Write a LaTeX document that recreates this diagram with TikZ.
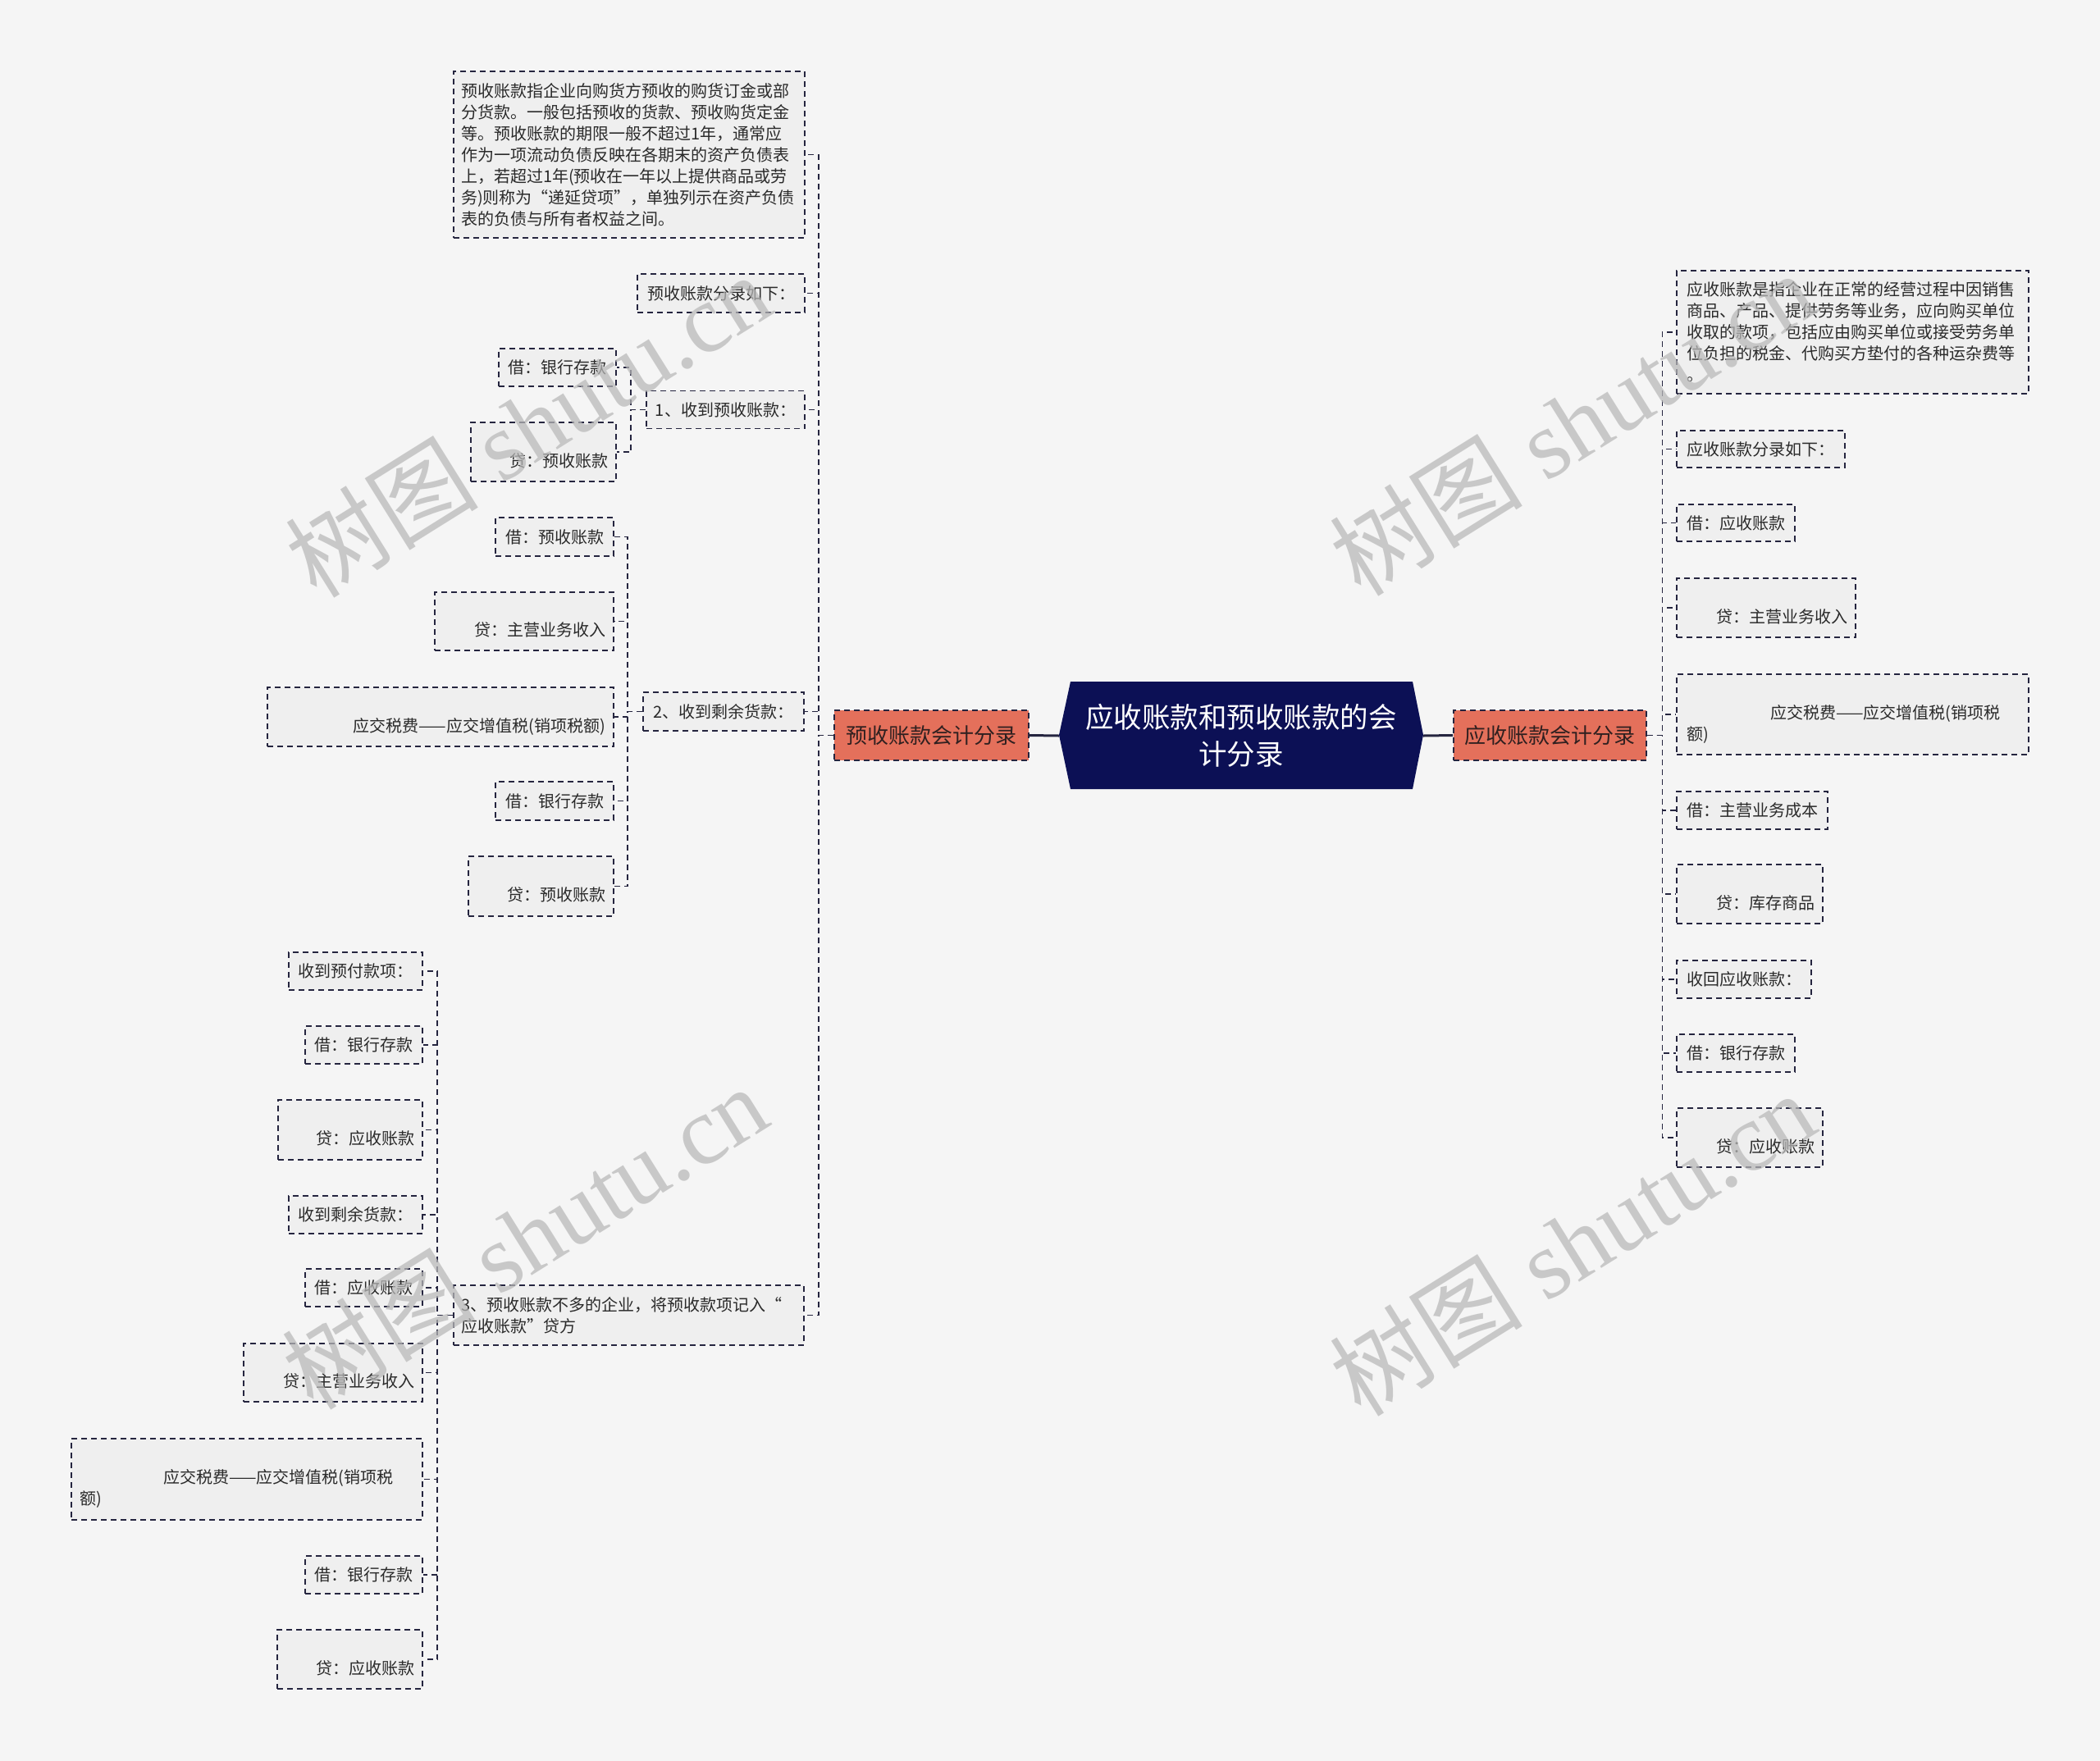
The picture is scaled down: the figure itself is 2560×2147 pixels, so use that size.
\documentclass[tikz,border=0pt]{standalone}
\usepackage{fontspec}
\newfontfamily\cjk{Noto Sans CJK SC}
\newfontfamily\wmserif{Liberation Serif}
\definecolor{bgc}{HTML}{F5F5F5}
\definecolor{boxc}{HTML}{EFEFEF}
\definecolor{linec}{HTML}{25253F}
\definecolor{redc}{HTML}{E4705B}
\definecolor{rootc}{HTML}{0C1055}
\definecolor{txtc}{HTML}{2A2A2A}
\definecolor{wmc}{HTML}{B8B8B8}
\definecolor{redtxt}{HTML}{302020}
\tikzset{
  bx/.style={draw=linec, line width=1.6pt, dash pattern=on 7pt off 5pt, fill=boxc,
    inner xsep=10pt, inner ysep=0pt, font=\cjk\fontsize{20pt}{26pt}\selectfont, text=txtc},
  bxr/.style={bx, align=right},
  bxl/.style={bx, align=left},
  redbox/.style={bx, fill=redc, font=\cjk\fontsize{26pt}{30pt}\selectfont, text=redtxt},
  conn/.style={draw=linec, line width=1.6pt, dash pattern=on 7pt off 5pt},
  rootline/.style={draw=linec, line width=3pt},
  wm/.style={font=\wmserif\fontsize{118pt}{124pt}\selectfont, text=wmc, opacity=0.72, rotate=32}
}
\begin{document}
\begin{tikzpicture}[x=1pt,y=-1pt]
\useasboundingbox (0,0) rectangle (2560,2147);
\fill[bgc] (0,0) rectangle (2560,2147);

% root
\fill[rootc] (1291,896) -- (1305,831) -- (1722,831) -- (1735,896) -- (1722,962) -- (1305,962) -- cycle;
\node[minimum width=444pt, minimum height=131pt, inner sep=0pt, align=center, text=white,
  font=\cjk\fontsize{34.5pt}{45pt}\selectfont] (root) at (1513,897) {应收账款和预收账款的会\\计分录};

% main branches
\node[redbox, minimum width=237pt, minimum height=61pt] (red1) at (1135.5,896.5) {预收账款会计分录};
\node[redbox, minimum width=235pt, minimum height=61pt] (red2) at (1889.5,896.5) {应收账款会计分录};
\draw[rootline] (red1.east) -- (root.west);
\draw[rootline] (root.east) -- (red2.west);

% left level 1
\node[bxl, inner xsep=9pt, text width=410pt, minimum width=428pt, minimum height=203pt] (A1) at (767,188.5)
 {预收账款指企业向购货方预收的购货订金或部\\分货款。一般包括预收的货款、预收购货定金\\等。预收账款的期限一般不超过1年，通常应\\作为一项流动负债反映在各期末的资产负债表\\上，若超过1年(预收在一年以上提供商品或劳\\务)则称为“递延贷项”，单独列示在资产负债\\表的负债与所有者权益之间。};
\node[bx, minimum width=204pt, minimum height=47pt] (A2) at (879,357.5) {预收账款分录如下：};
\node[bx, minimum width=193pt, minimum height=46pt] (A3) at (884.5,499.5) {1、收到预收账款：};
\node[bx, minimum width=196pt, minimum height=47pt] (A4) at (882,867.5) {2、收到剩余货款：};
\node[bxl, inner xsep=9pt, text width=409pt, minimum width=427pt, minimum height=73pt] (A5) at (766.5,1603.5)
 {3、预收账款不多的企业，将预收款项记入“\\应收账款”贷方};

% children of 1
\node[bx, minimum width=143pt, minimum height=46pt] (B1) at (679.5,448) {借：银行存款};
\node[bxr, text width=157pt, minimum width=177pt, minimum height=72pt] (B2) at (662.5,551) {\strut\\\strut 贷：预收账款};

% children of 2
\node[bx, minimum width=144pt, minimum height=47pt] (C1) at (676,654.5) {借：预收账款};
\node[bxr, text width=198pt, minimum width=218pt, minimum height=71pt] (C2) at (639,757.5) {\strut\\\strut 贷：主营业务收入};
\node[bxr, text width=402pt, minimum width=422pt, minimum height=72pt] (C3) at (537,874) {\strut\\\strut 应交税费——应交增值税(销项税额)};
\node[bx, minimum width=144pt, minimum height=47pt] (C4) at (676,976.5) {借：银行存款};
\node[bxr, text width=157pt, minimum width=177pt, minimum height=73pt] (C5) at (659.5,1080.5) {\strut\\\strut 贷：预收账款};

% children of 3
\node[bx, minimum width=163pt, minimum height=46pt] (D1) at (433.5,1184) {收到预付款项：};
\node[bx, minimum width=143pt, minimum height=46pt] (D2) at (443.5,1274) {借：银行存款};
\node[bxr, text width=156pt, minimum width=176pt, minimum height=73pt] (D3) at (427,1377.5) {\strut\\\strut 贷：应收账款};
\node[bx, minimum width=163pt, minimum height=46pt] (D4) at (433.5,1481) {收到剩余货款：};
\node[bx, minimum width=143pt, minimum height=46pt] (D5) at (443.5,1570) {借：应收账款};
\node[bxr, text width=198pt, minimum width=218pt, minimum height=71pt] (D6) at (406,1673.5) {\strut\\\strut 贷：主营业务收入};
\node[bxl, text width=408pt, minimum width=428pt, minimum height=99pt] (D7) at (301,1803.5)
 {\strut\\\strut\hspace*{102pt}应交税费——应交增值税(销项税\\\strut 额)};
\node[bx, minimum width=143pt, minimum height=46pt] (D8) at (443.5,1920) {借：银行存款};
\node[bxr, text width=157pt, minimum width=177pt, minimum height=72pt] (D9) at (426.5,2023) {\strut\\\strut 贷：应收账款};

% right side
\node[bxl, inner xsep=12pt, text width=405pt, minimum width=429pt, minimum height=150pt] (E1) at (2258.5,405)
 {应收账款是指企业在正常的经营过程中因销售\\商品、产品、提供劳务等业务，应向购买单位\\收取的款项，包括应由购买单位或接受劳务单\\位负担的税金、代购买方垫付的各种运杂费等\\。};
\node[bx, minimum width=205pt, minimum height=45pt] (E2) at (2146.5,547.5) {应收账款分录如下：};
\node[bx, minimum width=144pt, minimum height=45pt] (E3) at (2116,637.5) {借：应收账款};
\node[bxr, text width=198pt, minimum width=218pt, minimum height=72pt] (E4) at (2153,741) {\strut\\\strut 贷：主营业务收入};
\node[bxl, inner xsep=12pt, text width=405pt, minimum width=429pt, minimum height=98pt] (E5) at (2258.5,871)
 {\strut\\\strut\hspace*{102pt}应交税费——应交增值税(销项税\\\strut 额)};
\node[bx, minimum width=184pt, minimum height=46pt] (E6) at (2136,988) {借：主营业务成本};
\node[bxr, text width=158pt, minimum width=178pt, minimum height=72pt] (E7) at (2133,1090) {\strut\\\strut 贷：库存商品};
\node[bx, minimum width=164pt, minimum height=46pt] (E8) at (2126,1194) {收回应收账款：};
\node[bx, minimum width=144pt, minimum height=46pt] (E9) at (2116,1284) {借：银行存款};
\node[bxr, text width=158pt, minimum width=178pt, minimum height=72pt] (E10) at (2133,1387) {\strut\\\strut 贷：应收账款};

% connectors
\foreach \c in {A1,A2,A3,A4,A5} \draw[conn] (red1.west) -- ++(-18,0) |- (\c.east);
\foreach \c in {B1,B2} \draw[conn] (A3.west) -- ++(-18,0) |- (\c.east);
\foreach \c in {C1,C2,C3,C4,C5} \draw[conn] (A4.west) -- ++(-18,0) |- (\c.east);
\foreach \c in {D1,D2,D3,D4,D5,D6,D7,D8,D9} \draw[conn] (A5.west) -- ++(-19,0) |- (\c.east);
\foreach \c in {E1,E2,E3,E4,E5,E6,E7,E8,E9,E10} \draw[conn] (red2.east) -- ++(18.5,0) |- (\c.west);

% watermarks
\node[wm] at (643,518) {{\cjk 树图} shutu.cn};
\node[wm] at (1916,516) {{\cjk 树图} shutu.cn};
\node[wm] at (639,1508) {{\cjk 树图} shutu.cn};
\node[wm] at (1916,1516) {{\cjk 树图} shutu.cn};
\end{tikzpicture}
\end{document}
